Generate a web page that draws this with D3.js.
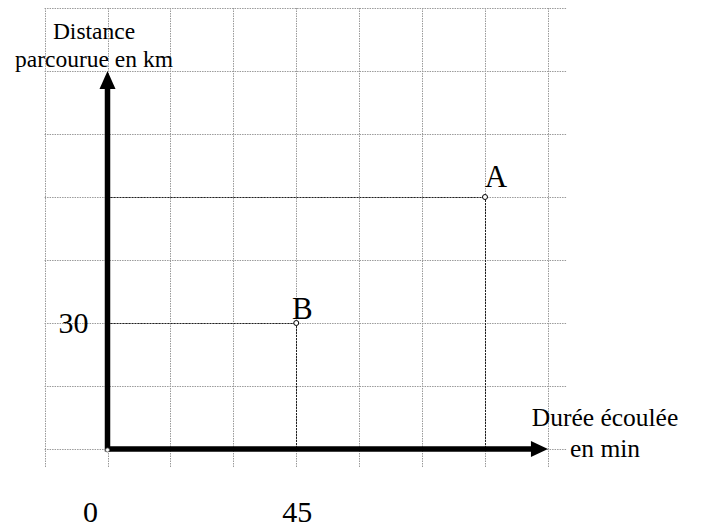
<!DOCTYPE html>
<html>
<head>
<meta charset="utf-8">
<script src="https://cdnjs.cloudflare.com/ajax/libs/d3/7.8.5/d3.min.js"></script>
<style>
body { margin:0; background:#fff; }
</style>
</head>
<body>
<div id="chart"></div>
<script>
// points: time in min, distance in km
var pointNames=["A","B"];
var pointTimes=[90,45];
var pointDistances=[60,30];

// tick labels shown
var xTickLabels=[0,45];
var yTickLabels=[30];

// grid: one cell = 15 min / 15 km
var gridX=[-15,0,15,30,45,60,75,90,105];
var gridY=[0,15,30,45,60,75,90,105];

var serif="'Liberation Serif','Times New Roman',serif";

function draw() {
    var width=701, height=530;
    var svg=d3.select("#chart").append("svg")
        .attr("width",width)
        .attr("height",height);

    var x=d3.scaleLinear().domain([0,90]).range([107.5,485]);
    var y=d3.scaleLinear().domain([0,60]).range([449,197]);

    var gx0=x(-15), gx1=x(109.5), gy0=y(105), gy1=y(-4.3);

    // light dotted grid
    var grid=svg.append("g")
        .attr("stroke","#9a9a9a")
        .attr("stroke-width",1)
        .attr("stroke-dasharray","1.5,1");
    grid.selectAll("line.v")
        .data(gridX)
        .enter().append("line")
        .attr("class","v")
        .attr("x1",function(d) { return Math.round(x(d))+0.5; })
        .attr("x2",function(d) { return Math.round(x(d))+0.5; })
        .attr("y1",gy0)
        .attr("y2",gy1);
    grid.selectAll("line.h")
        .data(gridY)
        .enter().append("line")
        .attr("class","h")
        .attr("y1",function(d) { return Math.round(y(d))+0.5; })
        .attr("y2",function(d) { return Math.round(y(d))+0.5; })
        .attr("x1",gx0)
        .attr("x2",gx1);

    var pts=zipPoints();

    // projection lines to the axes
    var proj=svg.append("g")
        .attr("stroke","#222")
        .attr("stroke-width",1)
        .attr("stroke-dasharray","2,1");
    proj.selectAll("line.ph")
        .data(pts)
        .enter().append("line")
        .attr("x1",x(0))
        .attr("x2",function(d) { return x(d.t); })
        .attr("y1",function(d) { return Math.round(y(d.d))+0.5; })
        .attr("y2",function(d) { return Math.round(y(d.d))+0.5; });
    proj.selectAll("line.pv")
        .data(pts)
        .enter().append("line")
        .attr("x1",function(d) { return Math.round(x(d.t))+0.5; })
        .attr("x2",function(d) { return Math.round(x(d.t))+0.5; })
        .attr("y1",function(d) { return y(d.d); })
        .attr("y2",y(0));

    // thick axes with arrow heads
    var xEnd=x(105), yEnd=y(90);
    svg.append("line")
        .attr("x1",x(0)).attr("y1",y(0))
        .attr("x2",xEnd-14).attr("y2",y(0))
        .attr("stroke","#000").attr("stroke-width",5.5);
    svg.append("line")
        .attr("x1",x(0)).attr("y1",y(0)+2.5)
        .attr("x2",x(0)).attr("y2",yEnd+16)
        .attr("stroke","#000").attr("stroke-width",5.5);
    svg.append("path")
        .attr("d","M"+xEnd+","+y(0)+"L"+(xEnd-17)+","+(y(0)-8)+"L"+(xEnd-17)+","+(y(0)+8)+"Z")
        .attr("fill","#000");
    svg.append("path")
        .attr("d","M"+x(0)+","+yEnd+"L"+(x(0)-8)+","+(yEnd+18)+"L"+(x(0)+8)+","+(yEnd+18)+"Z")
        .attr("fill","#000");

    // small open markers
    svg.append("circle")
        .attr("cx",x(0)).attr("cy",y(0)+1)
        .attr("r",2).attr("fill","#fff").attr("stroke","#666").attr("stroke-width",0.8);
    svg.selectAll("circle.pt")
        .data(pts)
        .enter().append("circle")
        .attr("class","pt")
        .attr("cx",function(d) { return x(d.t); })
        .attr("cy",function(d) { return y(d.d); })
        .attr("r",2.5)
        .attr("fill","#fff")
        .attr("stroke","#000")
        .attr("stroke-width",1);

    // point names, each sits a bit differently next to its marker
    svg.selectAll("text.name")
        .data(pts)
        .enter().append("text")
        .attr("class","name")
        .attr("x",function(d) { return x(d.t)+(d.name=="A" ? 11 : 6); })
        .attr("y",function(d) { return y(d.d)-(d.name=="A" ? 10 : 4); })
        .attr("text-anchor","middle")
        .style("font-family",serif)
        .style("font-size","31px")
        .text(function(d) { return d.name; });

    // tick labels
    svg.selectAll("text.xt")
        .data(xTickLabels)
        .enter().append("text")
        .attr("class","xt")
        .attr("x",function(d) { return x(d)+(d===0 ? -17 : 1); })
        .attr("y",522)
        .attr("text-anchor","middle")
        .style("font-family",serif)
        .style("font-size","30px")
        .text(function(d) { return d; });
    svg.selectAll("text.yt")
        .data(yTickLabels)
        .enter().append("text")
        .attr("class","yt")
        .attr("x",x(0)-19)
        .attr("y",function(d) { return y(d)+10; })
        .attr("text-anchor","end")
        .style("font-family",serif)
        .style("font-size","30px")
        .text(function(d) { return d; });

    // axis titles
    var yt=svg.append("text")
        .attr("text-anchor","middle")
        .style("font-family",serif)
        .style("font-size","23.5px");
    yt.append("tspan").attr("x",94).attr("y",39).text("Distance");
    yt.append("tspan").attr("x",94).attr("y",67).text("parcourue en km");

    var xt=svg.append("text")
        .attr("text-anchor","middle")
        .style("font-family",serif)
        .style("font-size","25.5px");
    xt.append("tspan").attr("x",605).attr("y",426).text("Durée écoulée");
    xt.append("tspan").attr("x",605).attr("y",457).text("en min");
}

function zipPoints() {
    return pointNames.map(function(n,i) {
        return {name:n, t:pointTimes[i], d:pointDistances[i]};
    });
}

document.body.onload=function() {
    draw();
};
</script>
</body>
</html>
